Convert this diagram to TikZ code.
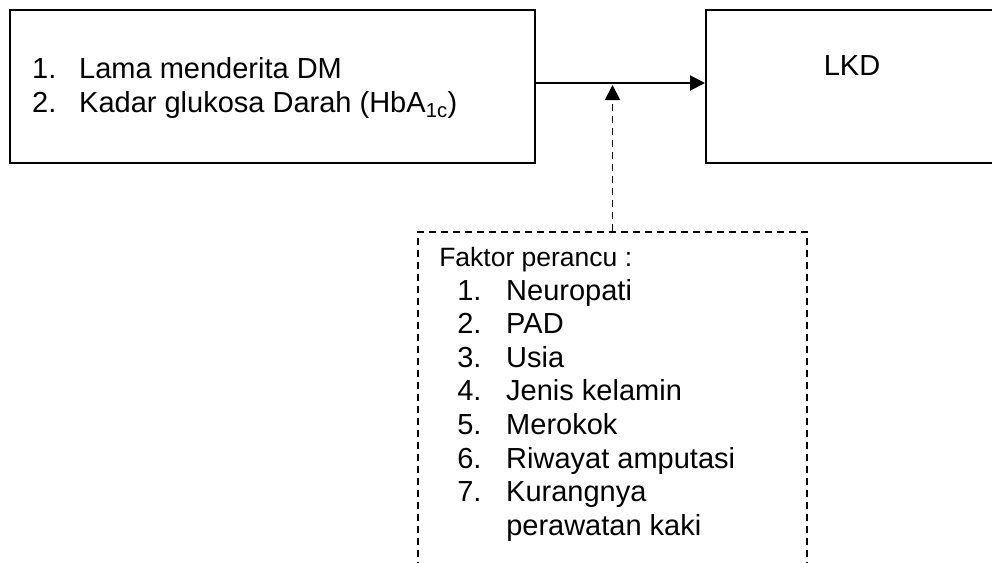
\documentclass[tikz,border=0pt]{standalone}
\usepackage{fontspec}
\setmainfont{Liberation Sans}
\usetikzlibrary{arrows.meta}

\begin{document}
\begin{tikzpicture}[x=1pt,y=-1pt,>={Triangle[length=15pt,width=15pt]},
    main box/.style={draw,rectangle,line width=2pt,inner sep=0pt},
    dash box/.style={draw,rectangle,line width=1.9pt,dash pattern=on 7pt off 5pt,inner sep=0pt},
    list text/.style={inner sep=0pt,align=left,anchor=north west}]

            \useasboundingbox (0,0) rectangle (992,562);

            \node[main box, minimum width=525pt, minimum height=153pt] (var) at (272.5,86.5) {};
            \node[main box, minimum width=292pt, minimum height=153pt] (lkd) at (852,86.5) {};
            \node[dash box, minimum width=389pt, minimum height=368pt] (conf) at (612.5,416) {};

            \node[list text, font=\fontsize{29}{34}\selectfont] (vartext) at ([xshift=23pt,yshift=-48pt]var.north west)
                {\makebox[47pt][l]{1.}Lama menderita DM\\
                 \makebox[47pt][l]{2.}Kadar glukosa Darah (HbA\textsubscript{1c})};
            \node[inner sep=0pt, anchor=base, font=\fontsize{29}{34}\selectfont] (lkdtext) at ([yshift=-66pt]lkd.north) {LKD};
            \node[list text, font=\fontsize{29}{33.6}\selectfont] (conftext) at ([xshift=22pt,yshift=-16pt]conf.north west)
                {{\fontsize{26.5}{33.6}\selectfont Faktor perancu :}\\
                 \hspace*{18pt}\makebox[49pt][l]{1.}Neuropati\\
                 \hspace*{18pt}\makebox[49pt][l]{2.}PAD\\
                 \hspace*{18pt}\makebox[49pt][l]{3.}Usia\\
                 \hspace*{18pt}\makebox[49pt][l]{4.}Jenis kelamin\\
                 \hspace*{18pt}\makebox[49pt][l]{5.}Merokok\\
                 \hspace*{18pt}\makebox[49pt][l]{6.}Riwayat amputasi\\
                 \hspace*{18pt}\makebox[49pt][l]{7.}Kurangnya\\
                 \hspace*{67pt}perawatan kaki};

            \coordinate (join) at (612.5,85);

            \draw[->, line width=2pt] ([yshift=3.5pt]var.east) to ([yshift=3.5pt]lkd.west);
            \draw[->, line width=1.9pt, dash pattern=on 7pt off 5pt] (conf.north) to (join);

        \end{tikzpicture}
\end{document}
